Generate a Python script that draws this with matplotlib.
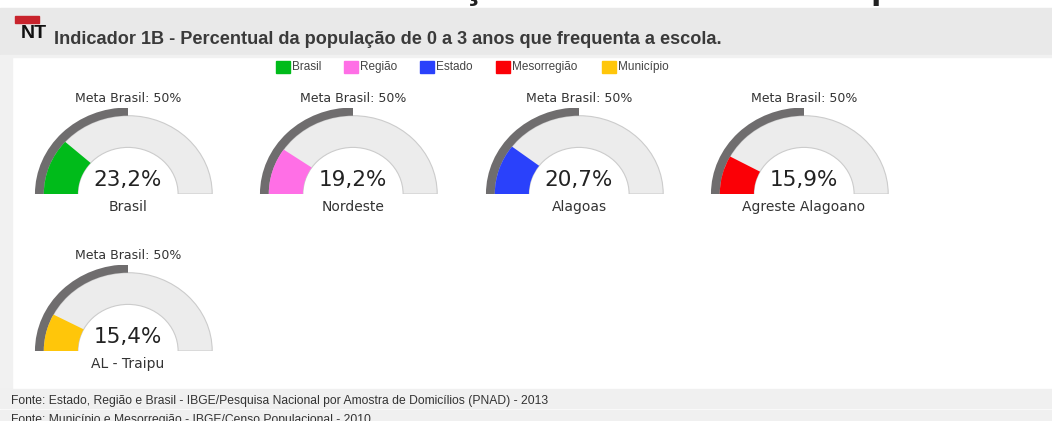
import matplotlib
matplotlib.use('Agg')
import matplotlib.pyplot as plt
from matplotlib.patches import Wedge, Rectangle

# dados
nomes = ['Brasil', 'Nordeste', 'Alagoas', 'Agreste Alagoano', 'AL - Traipu']
valores = [23.2, 19.2, 20.7, 15.9, 15.4]
rotulos = ['23,2%', '19,2%', '20,7%', '15,9%', '15,4%']
cores = ['#00bb1a', '#ff6fe6', '#2a41fb', '#fb0006', '#ffc60a']
meta = 50
legenda = ['Brasil', 'Região', 'Estado', 'Mesorregião', 'Município']
legenda_x = [276, 344, 420, 496, 602]
centros_x = [128, 353, 579, 804, 128]
bases_y = [194, 194, 194, 194, 351]

W, H = 1052, 421
fig = plt.figure(figsize=(W / 100, H / 100), dpi=100, facecolor='white')

# camada de fundo em pixels
bg = fig.add_axes([0, 0, 1, 1])
bg.set_xlim(0, W)
bg.set_ylim(H, 0)
bg.axis('off')
bg.add_patch(Rectangle((0, 8), W, 45.5, color='#e9e9e9'))
bg.add_patch(Rectangle((0, 55), W, 2, color='#f1f1f1'))
bg.add_patch(Rectangle((0, 57), 12, 332, color='#f1f1f1'))
bg.add_patch(Rectangle((0, 389), W, 19, color='#f0f0f0'))
bg.add_patch(Rectangle((0, 410), W, 11, color='#f0f0f0'))
bg.add_patch(Rectangle((15, 16), 24, 7, color='#c8232c'))
bg.text(15, -2, 'Gráfico 1: Meta da Educação Infantil - PNE - Traipu/AL', fontsize=27, fontweight='bold',
        fontfamily='Liberation Sans', va='baseline', color='#222222')
bg.text(34, 34, 'NT', fontsize=14, fontweight='bold', fontfamily='Liberation Sans', ha='center', va='center', color='#111111')
bg.text(54, 39.5, 'Indicador 1B - Percentual da população de 0 a 3 anos que frequenta a escola.', fontsize=13.05,
        fontweight='bold', fontfamily='Liberation Sans', va='center', color='#3a3a3a')
bg.text(11, 401, 'Fonte: Estado, Região e Brasil - IBGE/Pesquisa Nacional por Amostra de Domicílios (PNAD) - 2013',
        fontsize=8.7, fontfamily='Liberation Sans', va='center', color='#333333')
bg.text(11, 419.5, 'Fonte: Município e Mesorregião - IBGE/Censo Populacional - 2010',
        fontsize=8.7, fontfamily='Liberation Sans', va='center', color='#333333')

for nome, cor, x in zip(legenda, cores, legenda_x):
    bg.add_patch(Rectangle((x, 60.5), 14, 12.5, color=cor))
    bg.text(x + 16, 67, nome, fontsize=8.5, fontfamily='Liberation Sans', va='center', color='#444444')

# um eixo por medidor
for nome, valor, rotulo, cor, cx, base in zip(nomes, valores, rotulos, cores, centros_x, bases_y):
    larg, alt = 93.6, 86
    ax = fig.add_axes([(cx - larg) / W, (H - base) / H, 2 * larg / W, alt / H])
    ax.set_xlim(-93.6 / 84.2, 93.6 / 84.2)
    ax.set_ylim(0, 86 / 78.3)
    ax.axis('off')
    ax.add_patch(Wedge((0, 0), 1, 0, 180, width=0.405, facecolor='#ececec', edgecolor='#cccccc', lw=0.8))
    ax.add_patch(Wedge((0, 0), 1.105, 180 - meta * 1.8, 180, width=0.105, facecolor='#6f6d6e', edgecolor='none'))
    ax.add_patch(Wedge((0, 0), 1, 180 - valor * 1.8, 180, width=0.405, facecolor=cor, edgecolor='none'))
    bg.text(cx, base - 95.5, 'Meta Brasil: 50%', fontsize=9, ha='center', va='center', color='#333333')
    bg.text(cx, base - 14, rotulo, fontsize=15.5, ha='center', va='center', color='#222222')
    bg.text(cx, base + 13, nome, fontsize=10, ha='center', va='center', color='#333333')

fig.savefig('out.png', dpi=100, facecolor=fig.get_facecolor())
